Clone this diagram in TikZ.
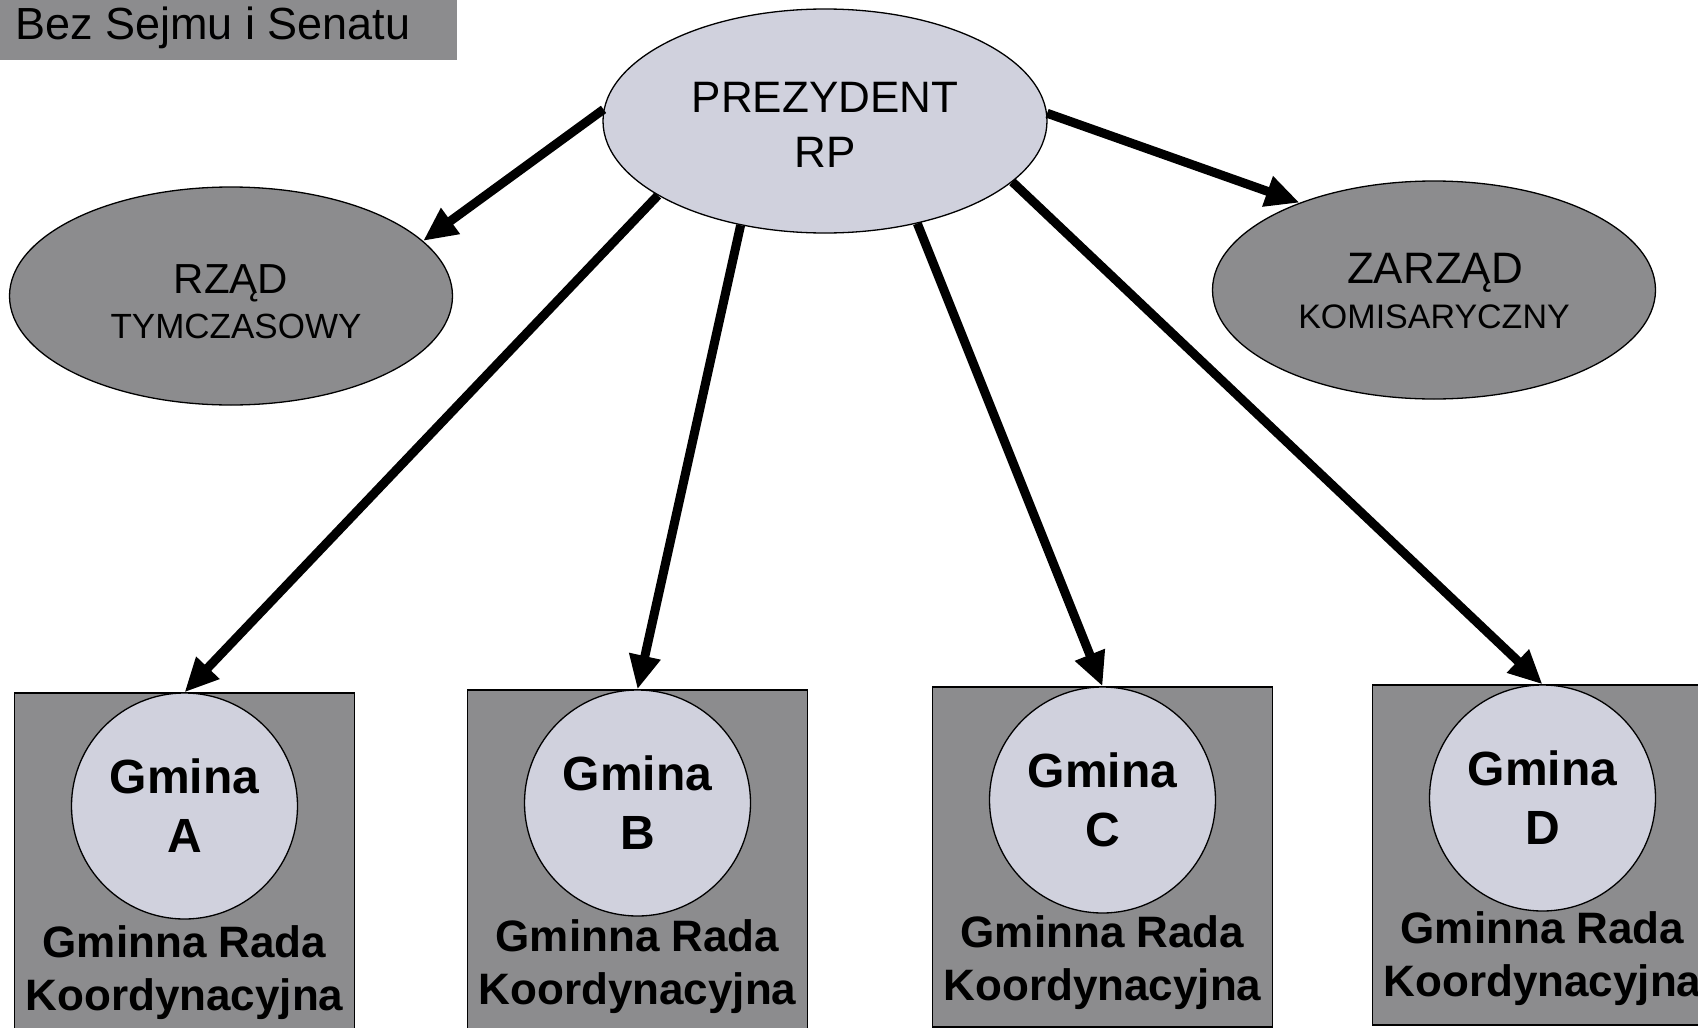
\documentclass[tikz,border=0pt]{standalone}
\usepackage{fontspec}
\setmainfont{Liberation Sans}
\usetikzlibrary{shapes.geometric, positioning, arrows.meta}

\definecolor{darkfill}{HTML}{8C8C8E}
\definecolor{lightfill}{HTML}{D0D1DD}

\begin{document}
\begin{tikzpicture}[x=1pt, y=-1pt,
        darkell/.style={ellipse, draw, line width=1.3pt, fill=darkfill, minimum width=443pt, minimum height=218pt, inner sep=0pt},
        lightell/.style={ellipse, draw, line width=1.3pt, fill=lightfill, minimum width=444pt, minimum height=224pt, inner sep=0pt},
        bigtext/.style={anchor=base, inner sep=0pt, font=\fontsize{44}{50}\selectfont},
        smalltext/.style={anchor=base, inner sep=0pt, font=\fontsize{34}{40}\selectfont},
        gbox/.style={rectangle, draw, line width=1.3pt, fill=darkfill, minimum width=340pt, minimum height=340pt, inner sep=0pt},
        gcircle/.style={circle, draw, line width=1.3pt, fill=lightfill, minimum size=226pt, inner sep=0pt, align=center, font=\bfseries\fontsize{48}{59}\selectfont},
        radatext/.style={anchor=base, inner sep=0pt, align=center, font=\bfseries\fontsize{44}{53}\selectfont},
        arr/.style={line width=9pt, -{Triangle[length=34pt, width=30pt]}}]
    \useasboundingbox (0,0) rectangle (1698,1028);
    \fill[white] (0,0) rectangle (1698,1028);

    % title bar
    \fill[darkfill] (0,0) rectangle (457,60);
    \node[anchor=base west, inner sep=0pt, font=\fontsize{45}{50}\selectfont] (title) at (15,39) {Bez Sejmu i Senatu};

    % ellipses
    \node[lightell] (prez) at (825,121) {};
    \node[bigtext] (prez1) at (825,112) {PREZYDENT};
    \node[bigtext] (prez2) at (825,167) {RP};

    \node[darkell] (rzad) at (231,296) {};
    \node[bigtext, font=\fontsize{42}{48}\selectfont] (rzad1) at (231,293) {RZĄD};
    \node[smalltext, font=\fontsize{35}{40}\selectfont] (rzad2) at (236,338) {TYMCZASOWY};

    \node[darkell] (zarzad) at (1434,290) {};
    \node[bigtext] (zarzad1) at (1435,283) {ZARZĄD};
    \node[smalltext] (zarzad2) at (1434,328) {KOMISARYCZNY};

    % gminy
    \node[gbox] (boxA) at (184.5,863) {};
    \node[gcircle, below=0pt of boxA.north] (gminaA) {Gmina\\A};
    \node[radatext] (radaA) at ([yshift=-318pt]boxA.north) {Gminna Rada\\Koordynacyjna};

    \node[gbox] (boxB) at (637.5,860) {};
    \node[gcircle, below=0pt of boxB.north] (gminaB) {Gmina\\B};
    \node[radatext] (radaB) at ([yshift=-315pt]boxB.north) {Gminna Rada\\Koordynacyjna};

    \node[gbox] (boxC) at (1102.5,857) {};
    \node[gcircle, below=0pt of boxC.north] (gminaC) {Gmina\\C};
    \node[radatext] (radaC) at ([yshift=-314pt]boxC.north) {Gminna Rada\\Koordynacyjna};

    \node[gbox] (boxD) at (1542.5,855) {};
    \node[gcircle, below=0pt of boxD.north] (gminaD) {Gmina\\D};
    \node[radatext] (radaD) at ([yshift=-312pt]boxD.north) {Gminna Rada\\Koordynacyjna};

    % arrows
    \draw[arr] (prez.177.7) -- (rzad.16.9);
    \draw[arr] (prez.2.9) -- (zarzad.147.9);
    \draw[arr] (prez.204.3) -- (gminaA.north);
    \draw[arr] (prez.231.7) -- (gminaB.north);
    \draw[arr] (prez.312.4) -- (gminaC.north);
    \draw[arr] (prez.342.6) -- (gminaD.north);
\end{tikzpicture}
\end{document}
